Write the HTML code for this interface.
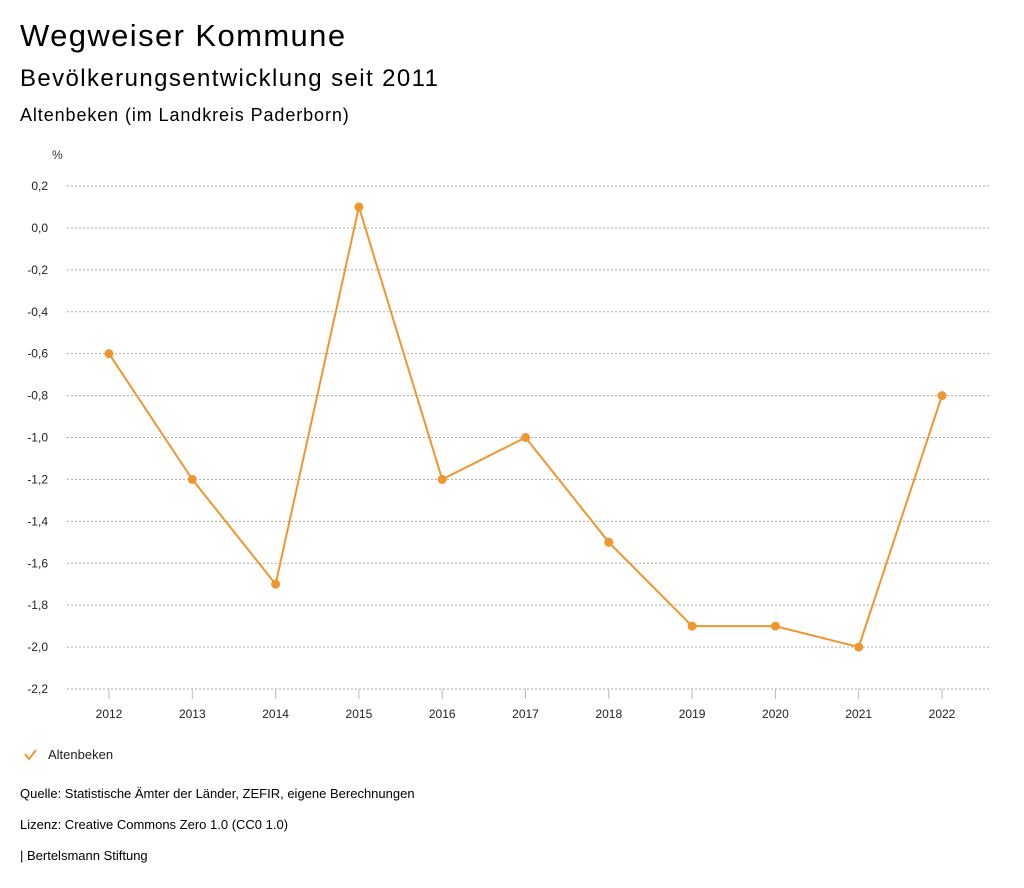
<!DOCTYPE html>
<html><head><meta charset="utf-8"><style>
body{margin:0;width:1024px;height:888px;background:#fff;font-family:"Liberation Sans","DejaVu Sans",sans-serif;color:#000;overflow:hidden}
.t{position:absolute;left:20px;white-space:nowrap}
</style></head><body>
<div class="t" style="top:18px;font-size:31px;letter-spacing:1.4px">Wegweiser Kommune</div>
<div class="t" style="top:65px;font-size:24px;letter-spacing:1.4px">Bevölkerungsentwicklung seit 2011</div>
<div class="t" style="top:105px;font-size:18px;letter-spacing:0.9px">Altenbeken (im Landkreis Paderborn)</div>
<svg id="chart" width="1024" height="888" style="position:absolute;left:0;top:0"></svg>
<div class="t" style="top:786px;font-size:13px">Quelle: Statistische Ämter der Länder, ZEFIR, eigene Berechnungen</div>
<div class="t" style="top:817px;font-size:13px">Lizenz: Creative Commons Zero 1.0 (CC0 1.0)</div>
<div class="t" style="top:848px;font-size:13px">| Bertelsmann Stiftung</div>
<script>
const years=["2012","2013","2014","2015","2016","2017","2018","2019","2020","2021","2022"];
const values=[-0.6,-1.2,-1.7,0.1,-1.2,-1.0,-1.5,-1.9,-1.9,-2.0,-0.8];
const yTicks=[0.2,0.0,-0.2,-0.4,-0.6,-0.8,-1.0,-1.2,-1.4,-1.6,-1.8,-2.0,-2.2];
const NS="http://www.w3.org/2000/svg",svg=document.getElementById('chart');
const y=v=>186+(0.2-v)/2.4*503;
const x=i=>109+i*83.3;
function mk(t,a,p){const e=document.createElementNS(NS,t);for(const k in a)e.setAttribute(k,a[k]);(p||svg).appendChild(e);return e;}
const pct=mk('text',{x:52,y:159,'font-size':12,fill:'#333'});pct.textContent='%';


yTicks.forEach(v=>{
  const g=mk('line',{x1:67,x2:990,y1:y(v),y2:y(v),stroke:'#aaa','stroke-dasharray':'2,2'});
  
  
  const t=mk('text',{x:48,y:y(v)+4,'text-anchor':'end','font-size':12,fill:'#222'});
  t.textContent=v.toFixed(1).replace('.',',').replace('-0,0','0,0');
  
  
});
years.forEach((yr,i)=>{
  const l=mk('line',{x1:x(i),x2:x(i),y1:689,y2:699,stroke:'#bbb'});
  
  
  const t=mk('text',{x:x(i),y:718,'text-anchor':'middle','font-size':12,fill:'#222'});
  t.textContent=yr;
  
  
});
const p=mk('polyline',{points:values.map((v,i)=>x(i)+','+y(v)).join(' '),fill:'none',stroke:'#f0962e','stroke-width':2});


values.forEach((v,i)=>{
  const c=mk('circle',{cx:x(i),cy:y(v),r:4.5,fill:'#f0962e'});
  
  
});
const lg=mk('g',{});


mk('polyline',{points:'25,754 29,759 36,750',fill:'none',stroke:'#f0962e','stroke-width':2},lg);
const lt=mk('text',{x:48,y:759,'font-size':13,fill:'#222'},lg);lt.textContent='Altenbeken';
</script>
</body></html>
